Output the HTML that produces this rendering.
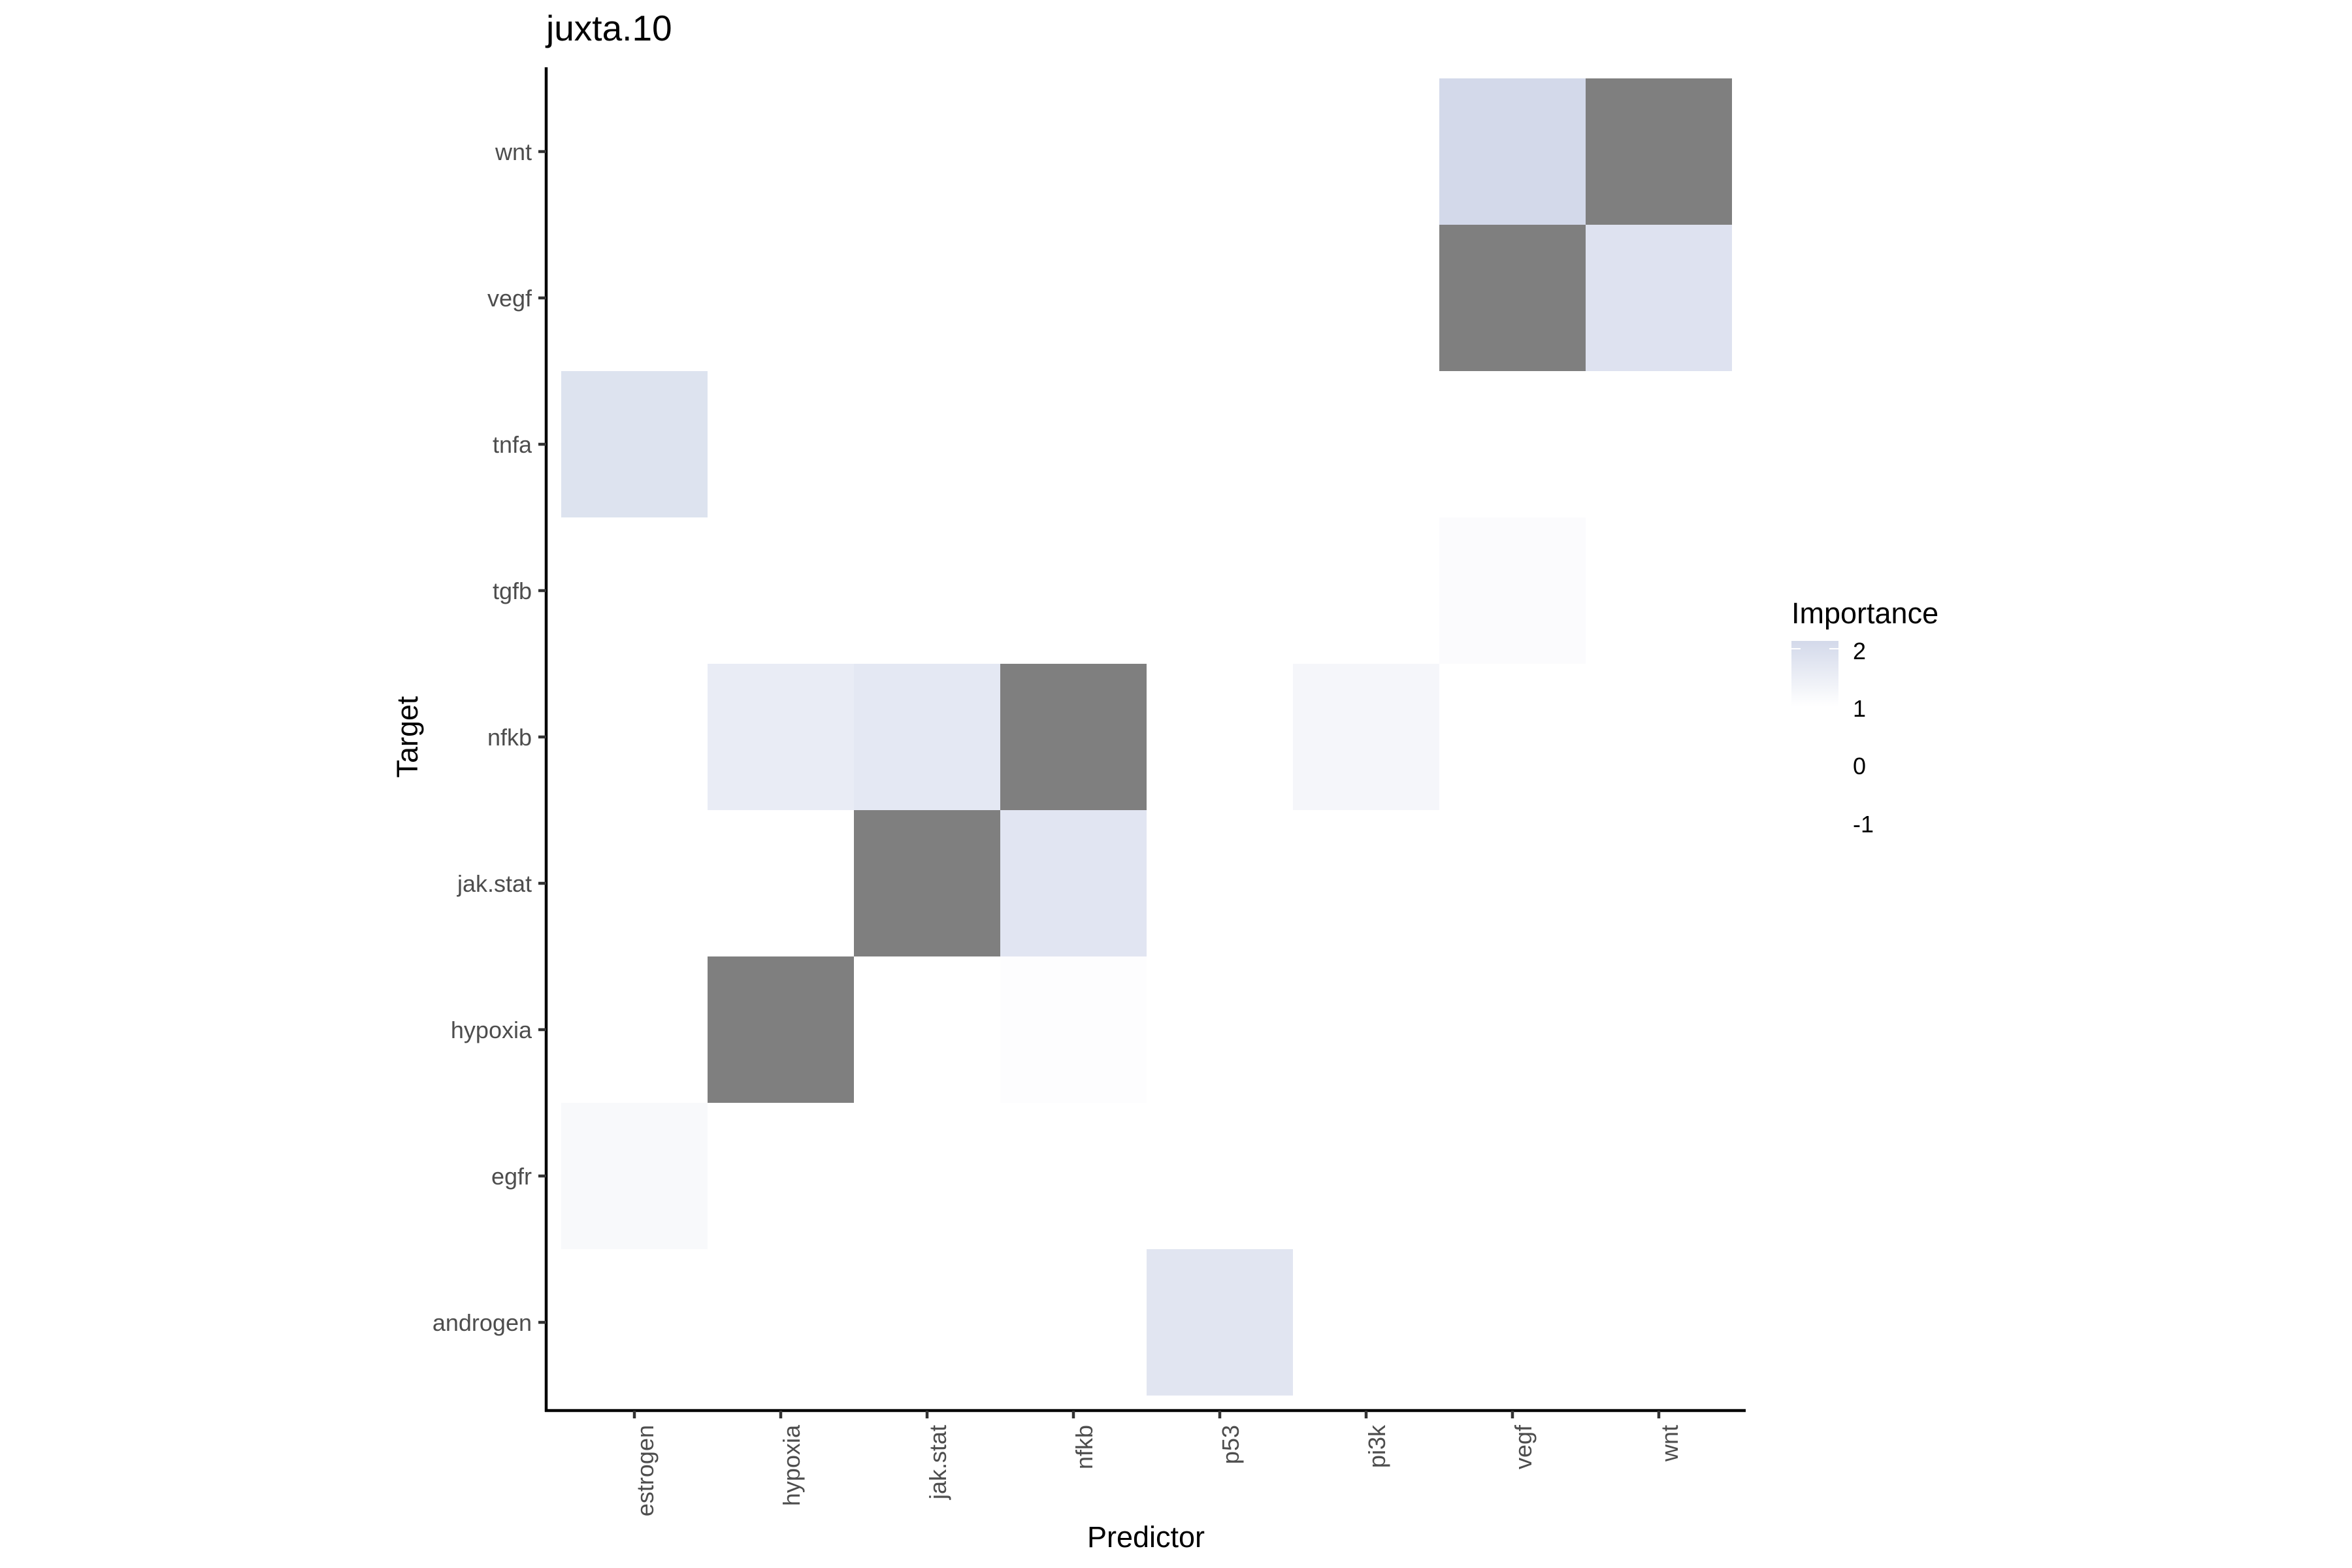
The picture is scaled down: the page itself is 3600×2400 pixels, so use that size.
<!DOCTYPE html>
<html><head><meta charset="utf-8"><style>
html,body{margin:0;padding:0;background:#fff;}
svg{display:block;font-family:"Liberation Sans",Arial,sans-serif;}
</style></head><body>
<svg width="3600" height="2400" viewBox="0 0 3600 2400" xmlns="http://www.w3.org/2000/svg">
<rect width="3600" height="2400" fill="#fff"/>
<g shape-rendering="crispEdges">
<rect x="2203" y="120" width="224" height="224" fill="#d3d9ea"/>
<rect x="2427" y="120" width="224" height="224" fill="#7f7f7f"/>
<rect x="2203" y="344" width="224" height="224" fill="#7f7f7f"/>
<rect x="2427" y="344" width="224" height="224" fill="#dee2f0"/>
<rect x="859" y="568" width="224" height="224" fill="#dde3ef"/>
<rect x="2203" y="792" width="224" height="224" fill="#fbfbfd"/>
<rect x="1083" y="1016" width="224" height="224" fill="#e9ecf5"/>
<rect x="1307" y="1016" width="224" height="224" fill="#e4e8f3"/>
<rect x="1531" y="1016" width="224" height="224" fill="#7f7f7f"/>
<rect x="1979" y="1016" width="224" height="224" fill="#f5f6fa"/>
<rect x="1307" y="1240" width="224" height="224" fill="#7f7f7f"/>
<rect x="1531" y="1240" width="224" height="224" fill="#e1e5f2"/>
<rect x="1083" y="1464" width="224" height="224" fill="#7f7f7f"/>
<rect x="1531" y="1464" width="224" height="224" fill="#fdfdfe"/>
<rect x="859" y="1688" width="224" height="224" fill="#f8f9fb"/>
<rect x="1755" y="1912" width="224" height="224" fill="#e1e5f1"/>
</g>
<line x1="836" y1="103" x2="836" y2="2161" stroke="#000" stroke-width="4.5"/>
<line x1="834" y1="2159" x2="2672" y2="2159" stroke="#000" stroke-width="4.5"/>
<g stroke="#333" stroke-width="4.5">
<line x1="824" y1="232" x2="836" y2="232"/>
<line x1="824" y1="456" x2="836" y2="456"/>
<line x1="824" y1="680" x2="836" y2="680"/>
<line x1="824" y1="904" x2="836" y2="904"/>
<line x1="824" y1="1128" x2="836" y2="1128"/>
<line x1="824" y1="1352" x2="836" y2="1352"/>
<line x1="824" y1="1576" x2="836" y2="1576"/>
<line x1="824" y1="1800" x2="836" y2="1800"/>
<line x1="824" y1="2024" x2="836" y2="2024"/>
<line x1="971" y1="2159" x2="971" y2="2171"/>
<line x1="1195" y1="2159" x2="1195" y2="2171"/>
<line x1="1419" y1="2159" x2="1419" y2="2171"/>
<line x1="1643" y1="2159" x2="1643" y2="2171"/>
<line x1="1867" y1="2159" x2="1867" y2="2171"/>
<line x1="2091" y1="2159" x2="2091" y2="2171"/>
<line x1="2315" y1="2159" x2="2315" y2="2171"/>
<line x1="2539" y1="2159" x2="2539" y2="2171"/>
</g>
<g font-size="36" fill="#4d4d4d" text-anchor="end">
<text x="814" y="245">wnt</text>
<text x="814" y="469">vegf</text>
<text x="814" y="693">tnfa</text>
<text x="814" y="917">tgfb</text>
<text x="814" y="1141">nfkb</text>
<text x="814" y="1365">jak.stat</text>
<text x="814" y="1589">hypoxia</text>
<text x="814" y="1813">egfr</text>
<text x="814" y="2037">androgen</text>
</g>
<g font-size="36" fill="#4d4d4d" text-anchor="end">
<text transform="translate(1000,2181) rotate(-90)">estrogen</text>
<text transform="translate(1224,2181) rotate(-90)">hypoxia</text>
<text transform="translate(1448,2181) rotate(-90)">jak.stat</text>
<text transform="translate(1672,2181) rotate(-90)">nfkb</text>
<text transform="translate(1896,2181) rotate(-90)">p53</text>
<text transform="translate(2120,2181) rotate(-90)">pi3k</text>
<text transform="translate(2344,2181) rotate(-90)">vegf</text>
<text transform="translate(2568,2181) rotate(-90)">wnt</text>
</g>
<text x="1754" y="2368" font-size="45" text-anchor="middle" fill="#000">Predictor</text>
<text transform="translate(639,1128) rotate(-90)" font-size="45" text-anchor="middle" fill="#000">Target</text>
<text x="836" y="62" font-size="55" fill="#000">juxta.10</text>
<text x="2742" y="954" font-size="45" fill="#000">Importance</text>
<defs><linearGradient id="g" x1="0" y1="0" x2="0" y2="1">
<stop offset="0" stop-color="#d3d9ea"/><stop offset="1" stop-color="#ffffff"/>
</linearGradient></defs>
<rect x="2742" y="981" width="72" height="100" fill="url(#g)"/>
<g stroke="#fff" stroke-width="2"><line x1="2742" y1="993" x2="2756" y2="993"/><line x1="2800" y1="993" x2="2814" y2="993"/></g>
<g font-size="36" fill="#000">
<text x="2836" y="1009">2</text>
<text x="2836" y="1097">1</text>
<text x="2836" y="1185">0</text>
<text x="2836" y="1274">-1</text>
</g>
</svg>
</body></html>
